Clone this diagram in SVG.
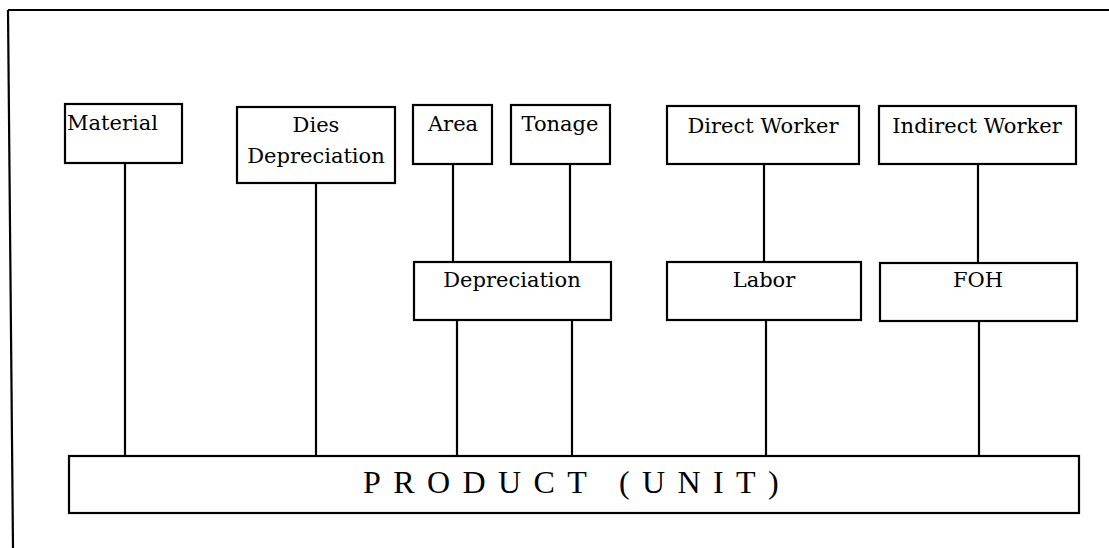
<svg xmlns="http://www.w3.org/2000/svg" width="1109" height="548" viewBox="0 0 1109 548">
  <style>
    .box { fill: #fff; stroke: #000; stroke-width: 2.2; }
    .lbl { font-family: "DejaVu Serif", "Liberation Serif", serif; font-size: 21px; fill: #000; }
    .mid { text-anchor: middle; }
    .big { font-family: "Liberation Serif", serif; font-size: 32px; letter-spacing: 12.4px; fill: #000; }
    .wire { stroke: #000; stroke-width: 2.2; fill: none; }
  </style>
  <rect x="0" y="0" width="1109" height="548" fill="#fff"/>

  <!-- page frame (top and left edges) -->
  <g id="frame" class="wire">
    <line x1="8" y1="10" x2="1109" y2="10"/>
    <line x1="8" y1="10" x2="13" y2="548"/>
  </g>

  <!-- connectors -->
  <g id="connectors" class="wire">
    <line x1="125" y1="163" x2="125" y2="456"/>
    <line x1="316" y1="183" x2="316" y2="456"/>
    <line x1="453" y1="164" x2="453" y2="262"/>
    <line x1="570" y1="164" x2="570" y2="262"/>
    <line x1="457" y1="320" x2="457" y2="456"/>
    <line x1="572" y1="320" x2="572" y2="456"/>
    <line x1="764" y1="164" x2="764" y2="262"/>
    <line x1="766" y1="320" x2="766" y2="456"/>
    <line x1="978" y1="164" x2="978" y2="263"/>
    <line x1="979" y1="321" x2="979" y2="456"/>
  </g>

  <g id="material">
    <rect class="box" x="65" y="104" width="117" height="59"/>
    <text class="lbl" x="67" y="130">Material</text>
  </g>
  <g id="dies-depreciation">
    <rect class="box" x="237" y="107" width="158" height="76"/>
    <text class="lbl mid" x="316" y="132">Dies</text>
    <text class="lbl mid" x="316" y="163">Depreciation</text>
  </g>
  <g id="area">
    <rect class="box" x="413" y="105" width="79" height="59"/>
    <text class="lbl mid" x="453" y="131">Area</text>
  </g>
  <g id="tonage">
    <rect class="box" x="511" y="105" width="99" height="59"/>
    <text class="lbl mid" x="560" y="131">Tonage</text>
  </g>
  <g id="direct-worker">
    <rect class="box" x="667" y="106" width="192" height="58"/>
    <text class="lbl mid" x="763" y="133">Direct Worker</text>
  </g>
  <g id="indirect-worker">
    <rect class="box" x="879" y="106" width="197" height="58"/>
    <text class="lbl mid" x="977" y="133">Indirect Worker</text>
  </g>
  <g id="depreciation">
    <rect class="box" x="414" y="262" width="197" height="58"/>
    <text class="lbl mid" x="512" y="287">Depreciation</text>
  </g>
  <g id="labor">
    <rect class="box" x="667" y="262" width="194" height="58"/>
    <text class="lbl mid" x="764" y="287">Labor</text>
  </g>
  <g id="foh">
    <rect class="box" x="880" y="263" width="197" height="58"/>
    <text class="lbl mid" x="978" y="287">FOH</text>
  </g>
  <g id="product">
    <rect class="box" x="69" y="456" width="1010" height="57"/>
    <text class="big" x="363" y="493">PRODUCT (UNIT)</text>
  </g>
</svg>
